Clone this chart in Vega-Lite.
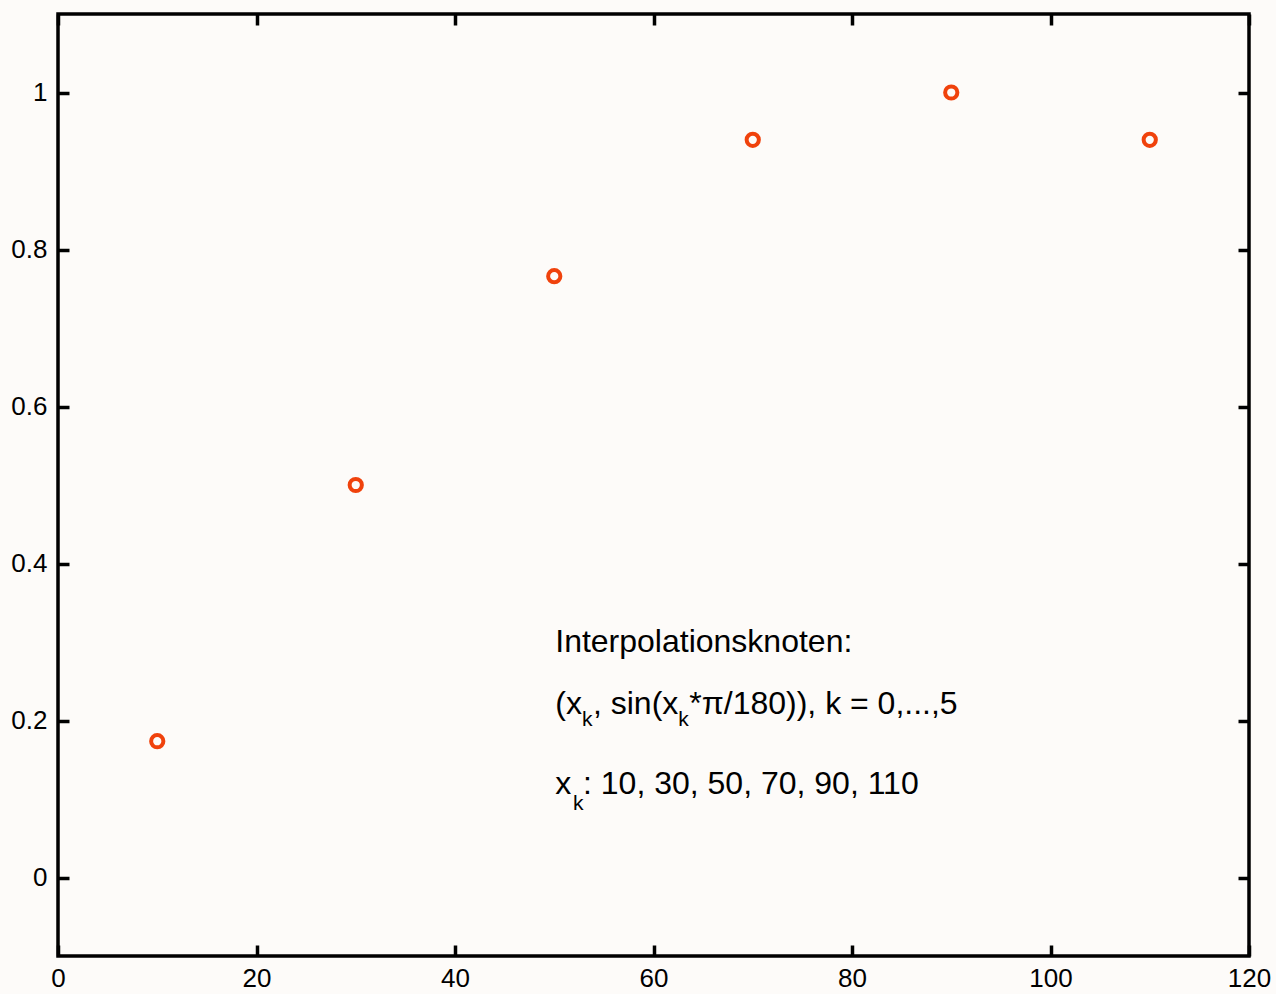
{
  "$schema": "https://vega.github.io/schema/vega-lite/v6.json",
  "width": 1191,
  "height": 942,
  "autosize": {"type": "none"},
  "padding": {"left": 58, "top": 14, "right": 27, "bottom": 38},
  "background": "#fdfbf9",
  "config": {
    "view": {"stroke": "#000000", "strokeWidth": 3.5, "fill": "#fdfbf9"},
    "axis": {
      "domain": false,
      "grid": false,
      "ticks": true,
      "tickColor": "#000000",
      "tickWidth": 3.5,
      "tickSize": -11,
      "labelFont": "Liberation Sans",
      "labelFontSize": 26,
      "labelColor": "#000000",
      "title": null
    },
    "text": {"font": "Liberation Sans", "color": "#000000", "baseline": "alphabetic", "align": "left"}
  },
  "datasets": {
    "knoten": [
      {"x": 10, "y": 0.1736},
      {"x": 30, "y": 0.5},
      {"x": 50, "y": 0.766},
      {"x": 70, "y": 0.9397},
      {"x": 90, "y": 1.0},
      {"x": 110, "y": 0.9397}
    ],
    "notiz": [
      {"x": 50.1, "y": 0.2875, "kind": "main", "text": "Interpolationsknoten:"},
      {"x": 50.1, "y": 0.2087, "kind": "main", "text": "(x"},
      {"x": 52.8, "y": 0.1934, "kind": "sub", "text": "k"},
      {"x": 53.9, "y": 0.2087, "kind": "main", "text": ", sin(x"},
      {"x": 62.5, "y": 0.1934, "kind": "sub", "text": "k"},
      {"x": 63.6, "y": 0.2087, "kind": "main", "text": "*π/180)), k = 0,...,5"},
      {"x": 50.1, "y": 0.1069, "kind": "main", "text": "x"},
      {"x": 51.9, "y": 0.0856, "kind": "sub", "text": "k"},
      {"x": 52.9, "y": 0.1069, "kind": "main", "text": ": 10, 30, 50, 70, 90, 110"}
    ]
  },
  "resolve": {"axis": {"x": "independent", "y": "independent"}},
  "layer": [
    {
      "data": {"name": "knoten"},
      "mark": {"type": "point", "shape": "circle", "filled": false, "stroke": "#f0420c", "strokeWidth": 4, "size": 150, "opacity": 1},
      "encoding": {
        "x": {"field": "x", "type": "quantitative", "scale": {"domain": [0, 120], "nice": false, "zero": false},
              "axis": {"orient": "bottom", "values": [0, 20, 40, 60, 80, 100, 120], "format": "d", "labelPadding": 20, "labelFlush": false}},
        "y": {"field": "y", "type": "quantitative", "scale": {"domain": [-0.1, 1.1], "nice": false, "zero": false},
              "axis": {"orient": "left", "values": [0, 0.2, 0.4, 0.6, 0.8, 1], "format": "~g", "labelPadding": 22, "labelFlush": false}}
      }
    },
    {
      "data": {"name": "notiz"},
      "transform": [{"filter": "datum.kind === 'main'"}],
      "mark": {"type": "text", "fontSize": 32},
      "encoding": {
        "x": {"field": "x", "type": "quantitative",
              "axis": {"orient": "top", "values": [0, 20, 40, 60, 80, 100, 120], "labels": false}},
        "y": {"field": "y", "type": "quantitative",
              "axis": {"orient": "right", "values": [0, 0.2, 0.4, 0.6, 0.8, 1], "labels": false}},
        "text": {"field": "text"}
      }
    },
    {
      "data": {"name": "notiz"},
      "transform": [{"filter": "datum.kind === 'sub'"}],
      "mark": {"type": "text", "fontSize": 21},
      "encoding": {
        "x": {"field": "x", "type": "quantitative", "axis": null},
        "y": {"field": "y", "type": "quantitative", "axis": null},
        "text": {"field": "text"}
      }
    }
  ]
}
